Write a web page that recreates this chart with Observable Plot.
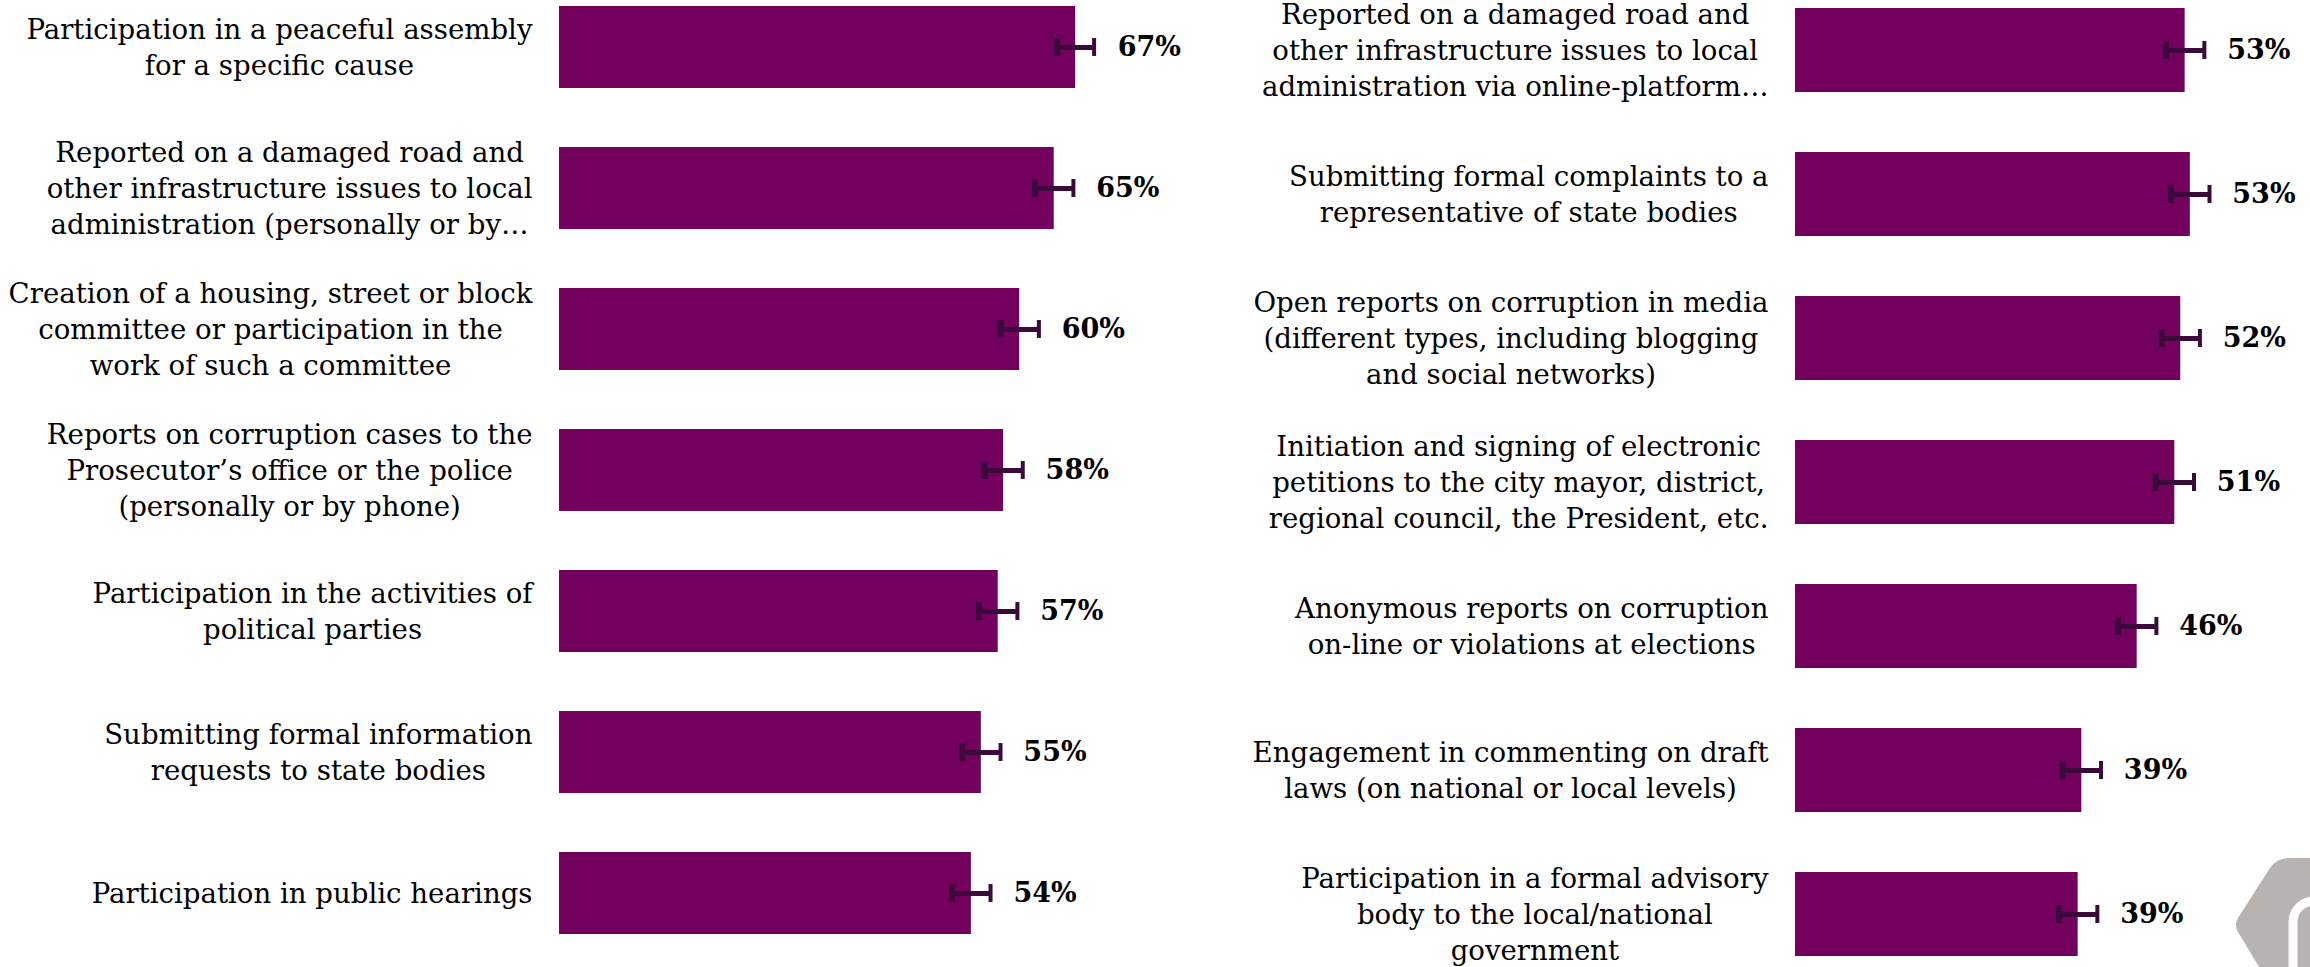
<!DOCTYPE html>
<html>
<head>
<meta charset="utf-8">
<script src="https://cdn.jsdelivr.net/npm/d3@7"></script>
<script src="https://cdn.jsdelivr.net/npm/@observablehq/plot@0.6"></script>
<style>
  html, body { margin: 0; padding: 0; background: #fff; overflow: hidden; }
  #wrap { position: relative; width: 2310px; height: 967px; }
  #left { position: absolute; left: 0; top: 0; }
  #right { position: absolute; left: 1230px; top: 0; }
  #logo { position: absolute; left: 0; top: 0; pointer-events: none; }
  svg { overflow: visible; }
</style>
</head>
<body>
<div id="wrap">
  <div id="left"></div>
  <div id="right"></div>
  <svg id="logo" width="2310" height="967">
    <path d="M2238,918 L2270,868 Q2277,858 2290,858 L2340,858 L2380,925 L2340,995 L2290,995 Q2277,995 2270,985 L2238,932 Q2234,925 2238,918 Z" fill="#b6b3b1"/>
    <path d="M2293,967 V922 a21,21 0 0 1 42,0" fill="none" stroke="#fff" stroke-width="9" stroke-linecap="round"/>
  </svg>
</div>
<script>
// ---- Data ----
const leftCategories = [
  "Participation in a peaceful assembly\nfor a specific cause",
  "Reported on a damaged road and\nother infrastructure issues to local\nadministration (personally or by…",
  "Creation of a housing, street or block\ncommittee or participation in the\nwork of such a committee",
  "Reports on corruption cases to the\nProsecutor’s office or the police\n(personally or by phone)",
  "Participation in the activities of\npolitical parties",
  "Submitting formal information\nrequests to state bodies",
  "Participation in public hearings"
];
const leftValues = [67.3, 64.5, 60.0, 57.9, 57.2, 55.0, 53.7];
const leftMargins = [2.4, 2.5, 2.5, 2.5, 2.5, 2.5, 2.5];
const leftLabels = ["67%", "65%", "60%", "58%", "57%", "55%", "54%"];

const rightCategories = [
  "Reported on a damaged road and\nother infrastructure issues to local\nadministration via online-platform…",
  "Submitting formal complaints to a\nrepresentative of state bodies",
  "Open reports on corruption in media\n(different types, including blogging\nand social networks)",
  "Initiation and signing of electronic\npetitions to the city mayor, district,\nregional council, the President, etc.",
  "Anonymous reports on corruption\non-line or violations at elections",
  "Engagement in commenting on draft\nlaws (on national or local levels)",
  "Participation in a formal advisory\nbody to the local/national\ngovernment"
];
const rightValues = [52.8, 53.5, 52.2, 51.4, 46.3, 38.8, 38.3];
const rightMargins = [2.6, 2.6, 2.6, 2.6, 2.6, 2.6, 2.6];
const rightLabels = ["53%", "53%", "52%", "51%", "46%", "39%", "39%"];

// ---- Style ----
const BAR = "#74005e";
const ERR = "#3c0a3a";
const FONT = "'DejaVu Serif', serif";

function panel({cats, values, margins, labels, width, xRange, yRange, padInner, padOuter}) {
  const data = cats.map((c, i) => ({cat: c, v: values[i], m: margins[i], label: labels[i]}));
  const bw = (yRange[1] - yRange[0]) / (cats.length - padInner + 2 * padOuter) * (1 - padInner);
  const capInset = (bw - 18) / 2;
  return Plot.plot({
    width, height: 967,
    marginLeft: 0, marginRight: 0, marginTop: 0, marginBottom: 0,
    style: {fontFamily: FONT, overflow: "visible", background: "transparent"},
    x: {domain: [0, 80], range: xRange, axis: null},
    y: {domain: cats, range: yRange, paddingInner: padInner, paddingOuter: padOuter, axis: null},
    marks: [
      Plot.barX(data, {x: "v", y: "cat", fill: BAR}),
      Plot.ruleY(data, {x1: d => d.v - d.m, x2: d => d.v + d.m, y: "cat", stroke: ERR, strokeWidth: 5}),
      Plot.tickX(data, {x: d => d.v - d.m, y: "cat", stroke: ERR, strokeWidth: 6, insetTop: capInset, insetBottom: capInset}),
      Plot.tickX(data, {x: d => d.v + d.m, y: "cat", stroke: ERR, strokeWidth: 4, insetTop: capInset, insetBottom: capInset}),
      Plot.text(data, {x: "v", y: "cat", text: "label", dx: 42, textAnchor: "start",
        fontSize: 27, fontWeight: "bold", fill: "#000"}),
      Plot.text(data, {x: 0, y: "cat", text: "cat", dx: -27, dy: -2, textAnchor: "middle",
        lineAnchor: "middle", lineHeight: 1.3, fontSize: 27.6, fill: "#000", className: "catlabel"})
    ]
  });
}

const left = panel({
  cats: leftCategories, values: leftValues, margins: leftMargins, labels: leftLabels,
  width: 1230, xRange: [559, 559 + 80 * 7.67], yRange: [0, 939], padInner: 0.42, padOuter: 0.028
});
const right = panel({
  cats: rightCategories, values: rightValues, margins: rightMargins, labels: rightLabels,
  width: 1080, xRange: [565, 565 + 80 * 7.38], yRange: [0, 964], padInner: 0.417, padOuter: 0.0556
});
document.getElementById("left").append(left);
document.getElementById("right").append(right);

// Right-align each label block while keeping its lines centred (as in the original)
for (const svg of [left, right]) {
  svg.querySelectorAll("g.catlabel text").forEach(t => {
    const spans = t.querySelectorAll("tspan");
    let w = 0;
    if (spans.length) spans.forEach(s => { w = Math.max(w, s.getComputedTextLength()); });
    else w = t.getComputedTextLength();
    const tr = t.getAttribute("transform") || "";
    t.setAttribute("transform", tr + ` translate(${-w / 2},0)`);
  });
}
</script>
</body>
</html>
